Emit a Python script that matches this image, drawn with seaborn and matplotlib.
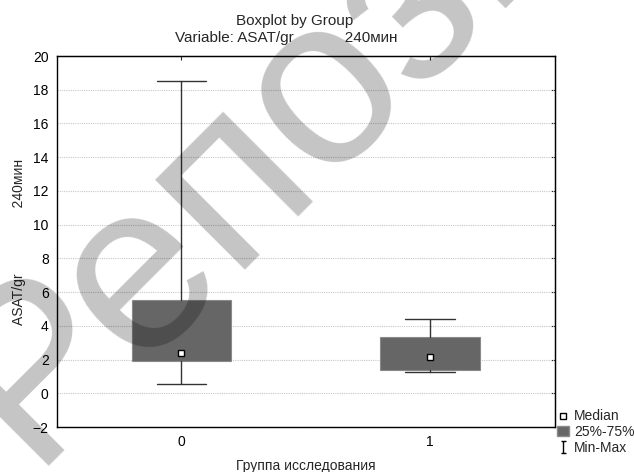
import matplotlib
matplotlib.use("Agg")
import matplotlib.pyplot as plt
from matplotlib.lines import Line2D
from matplotlib.patches import Patch
from matplotlib.path import Path
import seaborn as sns

# summary statistics
groups = ["0", "1"]
q_min = [0.55, 1.25]
q1 = [1.92, 1.38]
medians = [2.38, 2.13]
q3 = [5.53, 3.35]
q_max = [18.5, 4.38]
y_ticks = list(range(-2, 21, 2))


def main():
    sns.set_style("white")
    plt.rcParams["font.family"] = ["Liberation Sans", "DejaVu Sans"]
    plt.rcParams["font.size"] = 10

    fig = plt.figure(figsize=(6.34, 4.72), dpi=100)
    ax = fig.add_axes([0.0899, 0.0953, 0.785, 0.786])

    stats = []
    for i, g in enumerate(groups):
        stats.append(dict(label=g, whislo=q_min[i], q1=q1[i], med=medians[i],
                          mean=medians[i], q3=q3[i], whishi=q_max[i], fliers=[]))

    ax.bxp(stats, positions=range(len(groups)), widths=0.4, patch_artist=True,
           showmeans=True, showfliers=False,
           boxprops=dict(facecolor="#666666", edgecolor="#8a8a8a", linewidth=0.8),
           whiskerprops=dict(color="#333333", linewidth=1.0),
           capprops=dict(color="#333333", linewidth=1.0),
           capwidths=0.2,
           medianprops=dict(visible=False),
           meanprops=dict(marker="s", markerfacecolor="white",
                          markeredgecolor="black", markersize=5,
                          markeredgewidth=1.0))

    ax.set_xlim(-0.5, 1.5)
    ax.set_ylim(-2, 20)
    ax.set_yticks(y_ticks)
    ax.set_xticks(range(len(groups)))
    ax.set_xticklabels(groups)
    ax.yaxis.grid(True, linestyle=(0, (1, 1)), color="#c8c8c8", linewidth=0.8)
    ax.set_axisbelow(True)
    for s in ax.spines.values():
        s.set_color("black")
        s.set_linewidth(1.0)
    ax.tick_params(direction="out", length=3, width=0.8, colors="black",
                   labelsize=10, pad=3)

    # inward ticks on the top and right frame
    right = ax.secondary_yaxis("right")
    right.set_yticks(y_ticks)
    right.tick_params(direction="in", length=3, labelright=False)
    top = ax.secondary_xaxis("top")
    top.set_xticks(range(len(groups)))
    top.tick_params(direction="in", length=3, labeltop=False)

    fig.text(0.465, 0.956, "Boxplot by Group", fontsize=11,
             ha="center", va="center")
    fig.text(0.451, 0.919, "Variable: ASAT/gr" + " " * 12 + "240мин",
             fontsize=11, ha="center", va="center")
    ax.set_xlabel("Группа исследования", fontsize=10, labelpad=7)
    ax.set_ylabel("ASAT/gr" + " " * 17 + "240мин", fontsize=10, labelpad=5)

    handles = [
        Line2D([], [], linestyle="none", marker="s", markerfacecolor="white",
               markeredgecolor="black", markersize=5),
        Patch(facecolor="#666666", edgecolor="#8a8a8a"),
        Line2D([], [], linestyle="none", color="black", markersize=9,
               marker=Path([(-0.4, -1), (0.4, -1), (0, -1), (0, 1), (-0.4, 1), (0.4, 1)],
                           [1, 2, 1, 2, 1, 2])),
    ]
    fig.legend(handles, ["Median", "25%-75%", "Min-Max"], loc="lower left",
               bbox_to_anchor=(0.864, 0.016), frameon=False, fontsize=10,
               handlelength=0.8, handletextpad=0.4, labelspacing=0.12,
               borderpad=0.2)

    # repository watermark
    fig.text(0.045, 0.014, "Репозиторий", fontsize=172,
             color="black", alpha=0.23, rotation=45, rotation_mode="anchor",
             ha="left", va="baseline", zorder=10)

    fig.savefig("out.png", dpi=100)


if __name__ == "__main__":
    main()
